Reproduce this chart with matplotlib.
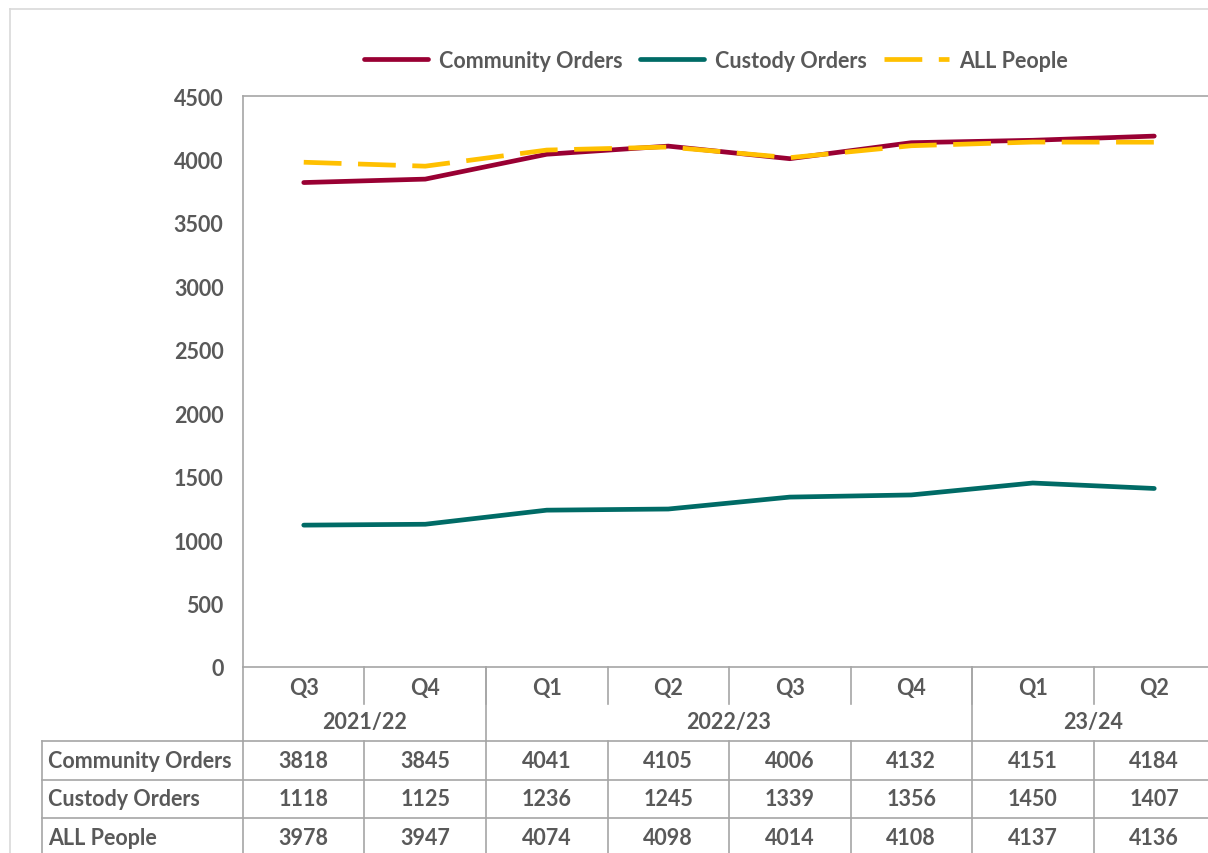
import numpy as np
import matplotlib.pyplot as plt
from matplotlib.lines import Line2D

plt.rcParams['font.family'] = ['Lato', 'DejaVu Sans']

quarters = ['Q3', 'Q4', 'Q1', 'Q2', 'Q3', 'Q4', 'Q1', 'Q2']
years = ['2021/22', '2022/23', '23/24']
year_span = [2, 4, 2]  # number of quarters under each year label

community = [3818, 3845, 4041, 4105, 4006, 4132, 4151, 4184]
custody = [1118, 1125, 1236, 1245, 1339, 1356, 1450, 1407]
all_people = [3978, 3947, 4074, 4098, 4014, 4108, 4137, 4136]

series_names = ['Community Orders', 'Custody Orders', 'ALL People']
series_vals = [community, custody, all_people]
colors = ['#990033', '#006B66', '#FFC000']

W, H = 1208, 854
txt = '#595959'
grid = '#A6A6A6'
fs = 15.5

fig = plt.figure(figsize=(W / 100, H / 100), dpi=100)


def fx(x):
    return x / W


def fy(y):
    return 1 - y / H


# plot area (runs a little past the right edge like the source)
left, right, top, bottom = 243, 1215, 97, 668
ax = fig.add_axes([fx(left), fy(bottom), fx(right - left), fy(top) - fy(bottom)])

x = np.arange(len(quarters))
ax.plot(x, community, color=colors[0], lw=3.4, solid_capstyle='round', label=series_names[0])
ax.plot(x, custody, color=colors[1], lw=3.4, solid_capstyle='round', label=series_names[1])
ax.plot(x, all_people, color=colors[2], lw=3.4, dashes=(8, 3.5), label=series_names[2])

ax.set_xlim(-0.5, len(quarters) - 0.5)
ax.set_ylim(0, 4500)
ax.set_yticks(np.arange(0, 4501, 500))
ax.set_xticks([])
ax.tick_params(axis='y', length=0, pad=14, labelsize=fs, labelcolor=txt)
for lab in ax.get_yticklabels():
    lab.set_fontweight('bold')
for s in ax.spines.values():
    s.set_color(grid)
    s.set_linewidth(1.2)

leg = fig.legend(loc='center', bbox_to_anchor=(fx(716), fy(61)), ncol=3, frameon=False,
                 handlelength=3.0, columnspacing=0.8, handletextpad=0.5,
                 prop={'size': fs, 'weight': 'bold'})
for t in leg.get_texts():
    t.set_color(txt)

# data table underneath, drawn in figure pixels
cw = (right - left) / len(quarters)


def hline(y, x0, x1, c=grid):
    fig.add_artist(Line2D([fx(x0), fx(x1)], [fy(y), fy(y)], color=c, lw=1.2))


def vline(x0, y0, y1, c=grid):
    fig.add_artist(Line2D([fx(x0), fx(x0)], [fy(y0), fy(y1)], color=c, lw=1.2))


# outer chart frame
hline(10, 10, W + 5, '#D9D9D9')
vline(10, 10, H + 5, '#D9D9D9')

# quarter row
for i, q in enumerate(quarters):
    fig.text(fx(left + cw * (i + 0.5)), fy(689), q, ha='center', va='center',
             fontsize=fs, fontweight='bold', color=txt)
    if i > 0:
        vline(left + cw * i, bottom, 705)

# year row
pos = 0
vline(left, bottom, 742)
for yname, n in zip(years, year_span):
    fig.text(fx(left + cw * (pos + n / 2)), fy(722), yname, ha='center', va='center',
             fontsize=fs, fontweight='bold', color=txt)
    pos += n
    vline(left + cw * pos, bottom, 742)

# value rows
row_top = 742
row_h = 38.5
for r, (name, vals) in enumerate(zip(series_names, series_vals)):
    yc = row_top + row_h * (r + 0.5)
    fig.text(fx(48), fy(yc), name, ha='left', va='center',
             fontsize=fs, fontweight='bold', color=txt)
    for i, v in enumerate(vals):
        fig.text(fx(left + cw * (i + 0.5)), fy(yc), str(v), ha='center', va='center',
                 fontsize=fs, fontweight='bold', color=txt)
for r in range(len(series_names) + 1):
    hline(row_top + row_h * r, 42, W + 5)
vline(42, row_top, H + 5)
for i in range(len(quarters) + 1):
    vline(left + cw * i, row_top, H + 5)

fig.savefig('out.png', dpi=100)
